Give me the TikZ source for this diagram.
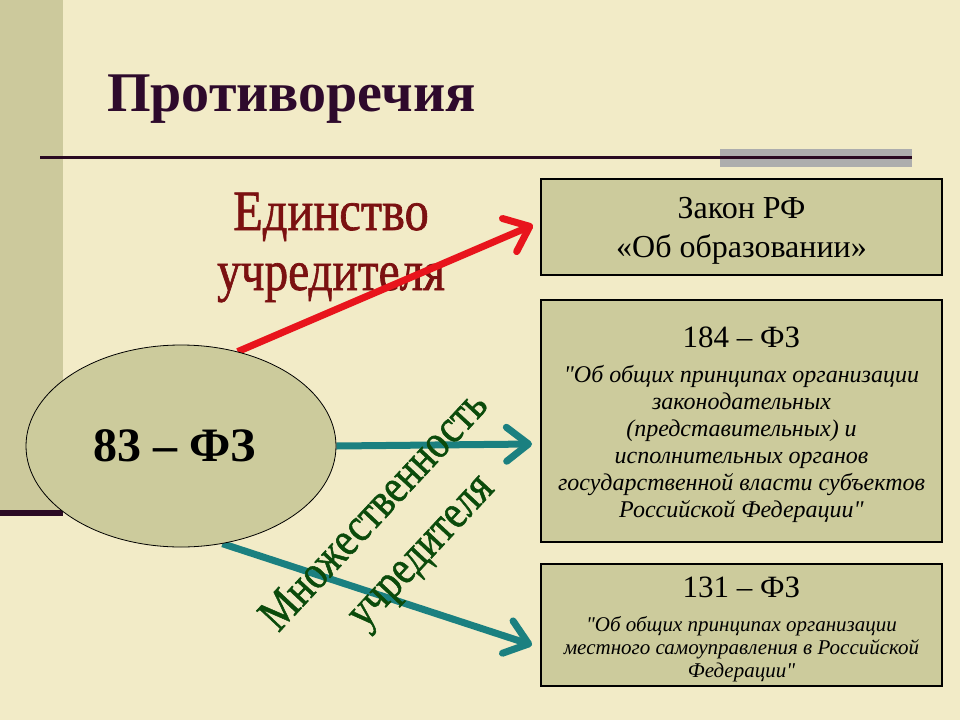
\documentclass[tikz,border=0pt]{standalone}
\usepackage{fontspec}
\setmainfont{Liberation Serif}
\newfontfamily\wordart[FakeBold=1.2]{Liberation Serif}
\usetikzlibrary{shapes.geometric,arrows.meta}
\definecolor{bg}{HTML}{F2EBC7}
\definecolor{strip}{HTML}{CCC99C}
\definecolor{boxfill}{HTML}{CCCB9C}
\definecolor{darkline}{HTML}{2A0A22}
\definecolor{graybar}{HTML}{ADADAD}
\definecolor{titlecol}{HTML}{2E0A2C}
\definecolor{arrred}{HTML}{E8141C}
\definecolor{arrteal}{HTML}{1B8080}
\definecolor{unityred}{HTML}{7B1111}
\definecolor{manygreen}{HTML}{0B4B0B}
\pgfdeclarelayer{bgl}
\pgfdeclarelayer{back}
\pgfsetlayers{bgl,back,main}
\begin{document}
\begin{tikzpicture}[x=1pt,y=-1pt,
  lawbox/.style={draw=black, line width=1.3pt, fill=boxfill, minimum width=401pt, inner sep=0pt, align=center},
  redarrow/.style={draw=arrred, line width=7pt, -{Straight Barb[length=22pt,width=36pt,round]}},
  tealarrow/.style={draw=arrteal, line width=7pt, -{Straight Barb[length=22pt,width=34pt,round]}},
  unitytext/.style={anchor=base, inner sep=0pt, text=unityred, font=\wordart\fontsize{57}{60}\selectfont},
  manytext/.style={anchor=base, inner sep=0pt, rotate=47, text=manygreen, font=\wordart\fontsize{48}{50}\selectfont}
]
\begin{pgfonlayer}{bgl}
\fill[bg] (0,0) rectangle (960,720);
\fill[strip] (0,0) rectangle (63,510);
\fill[darkline] (0,510) rectangle (63,516);
\fill[graybar] (720,149) rectangle (912,167);
\draw[darkline, line width=3pt] (40,157) -- (912,157);
\node[unitytext] (u1) at (331,230) {\scalebox{0.85}[1]{Единство}};
\node[unitytext] (u2) at (331,290) {\scalebox{0.83}[1]{учредителя}};
\end{pgfonlayer}
\useasboundingbox (0,0) rectangle (960,720);

\node[anchor=base west, inner sep=0pt, text=titlecol, font=\fontsize{56}{60}\selectfont\bfseries] (title) at (107,111) {Противоречия};

\node[ellipse, draw=black, line width=0.8pt, fill=boxfill, minimum width=310pt, minimum height=202pt, inner sep=0pt, font=\fontsize{48}{50}\selectfont\bfseries] (ell) at (181,446) {83 – ФЗ\hspace*{12pt}};

\coordinate (t1) at (533,225);
\coordinate (t2) at (532,444);
\coordinate (t3) at (532,645);
\begin{pgfonlayer}{back}
\draw[redarrow] (ell.59) -- (t1);
\draw[tealarrow] (ell.east) -- (t2);
\draw[tealarrow] (ell.-67) -- (t3);
\end{pgfonlayer}

\node[manytext] (m1) at (384,520) {\scalebox{0.83}[1]{Множественность}};
\node[manytext] (m2) at (430,560) {\scalebox{0.83}[1]{учредителя}};

\node[lawbox, minimum height=96pt, font=\fontsize{32}{39}\selectfont] (zakon) at (741.5,227) {\rule{0pt}{29pt}Закон РФ\\«Об образовании»};

\node[lawbox, minimum height=242pt, font=\fontsize{24}{27}\selectfont\itshape] (f184) at (741.5,421)
 {{\upshape\fontsize{31}{27}\selectfont\rule{0pt}{28pt}184 – ФЗ}\\[8pt]
  \textquotedbl Об общих принципах организации\\
  законодательных\\
  (представительных) и\\
  исполнительных органов\\
  государственной власти субъектов\\
  Российской Федерации\textquotedbl};

\node[lawbox, minimum height=122pt, font=\fontsize{21}{23}\selectfont\itshape] (f131) at (741.5,625)
 {{\upshape\fontsize{31}{23}\selectfont\rule{0pt}{30pt}131 – ФЗ}\\[11pt]
  \textquotedbl Об общих принципах организации\\
  местного самоуправления в Российской\\
  Федерации\textquotedbl};
\end{tikzpicture}
\end{document}
